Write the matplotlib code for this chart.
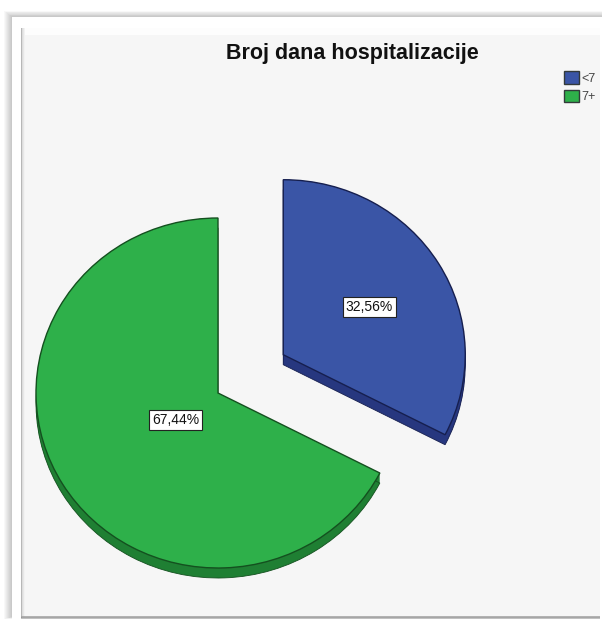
import matplotlib
matplotlib.use('Agg')
import matplotlib.pyplot as plt
from matplotlib.patches import Rectangle

plt.rcParams['font.family'] = ['Liberation Sans', 'DejaVu Sans']

categories = ['<7', '7+']
shares = [32.56, 67.44]
title = 'Broj dana hospitalizacije'

top_colors = ['#3a55a6', '#2eb04a']
side_colors = ['#27377f', '#1f7f33']
edge_colors = ['#161f4f', '#14501f']

W, H = 603, 626
fig = plt.figure(figsize=(W / 100, H / 100), dpi=100, facecolor='white')

# background frame, in pixel coordinates
bg = fig.add_axes([0, 0, 1, 1])
bg.set_xlim(0, W)
bg.set_ylim(H, 0)
bg.axis('off')

# soft shadow around the white frame
for i in range(8):
    bg.add_patch(Rectangle((4 + i, 11 + i * 0.7), 598 - i, 608 - i, fc='black', ec='none', alpha=0.028))
bg.add_patch(Rectangle((12, 17), 591, 603, fc='white', ec='none'))

# inner bevel
bg.add_patch(Rectangle((21, 28), 579, 591, fc='#fdfdfd', ec='none'))
for i in range(5):
    bg.add_patch(Rectangle((21, 616 + i * 0.6), 579, 1, fc='#8a8a8a', ec='none', alpha=0.65 - i * 0.1))
    bg.add_patch(Rectangle((20.5 + i * 0.8, 28), 1, 590, fc='#a5a5a5', ec='none', alpha=0.6 - i * 0.12))
bg.add_patch(Rectangle((25, 35), 575, 581, fc='#f6f6f6', ec='none'))

# pie axes: one data unit is the pie radius, wider than tall
cx, cy, rx, ry = 218, 393, 182, 175
ax = fig.add_axes([0, 0, 1, 1])
ax.patch.set_alpha(0)
explode = [0.42, 0]

# side of the pie, a stack of darker copies shifted down
for d in range(1, 11):
    wedges, _ = ax.pie(shares, explode=explode, startangle=90, counterclock=False,
                       colors=side_colors, center=(0, -d / ry), radius=1,
                       wedgeprops={'linewidth': 0})
    if d == 10:
        for w, c in zip(wedges, edge_colors):
            w.set_edgecolor(c)
            w.set_linewidth(0.6)

wedges, _ = ax.pie(shares, explode=explode, startangle=90, counterclock=False,
                   colors=top_colors, radius=1,
                   wedgeprops={'linewidth': 1.0})
for w, c in zip(wedges, edge_colors):
    w.set_edgecolor(c)

ax.set_aspect('auto')
ax.set_xlim(-cx / rx, (W - cx) / rx)
ax.set_ylim((cy - H) / ry, cy / ry)
ax.set_position([0, 0, 1, 1])

label_box = dict(boxstyle='square,pad=0.2', fc='white', ec='#222222', lw=0.8)
bg2 = fig.add_axes([0, 0, 1, 1])
bg2.set_xlim(0, W)
bg2.set_ylim(H, 0)
bg2.axis('off')
bg2.patch.set_alpha(0)

label_pos = [(369.5, 307), (175.5, 420)]
for v, (x, y) in zip(shares, label_pos):
    bg2.text(x, y, f'{v:.2f}%'.replace('.', ','), ha='center', va='center',
             fontsize=10, color='#111111', bbox=label_box)

bg2.text(352, 54, title, ha='center', va='center', fontsize=15.5,
         fontweight='bold', color='#111111')

# legend
leg = bg2.legend(handles=[Rectangle((0, 0), 1, 1, fc=c, ec='#333a3a', lw=1.0) for c in top_colors],
                 labels=categories, loc='upper left', bbox_to_anchor=(563 / W, 1 - 70 / H),
                 frameon=False, fontsize=9, handlelength=1.15, handleheight=1.15,
                 handletextpad=0.25, labelspacing=0.4, borderpad=0.1, borderaxespad=0)
for t in leg.get_texts():
    t.set_color('#444444')

fig.savefig('out.png', dpi=100, facecolor='white')
